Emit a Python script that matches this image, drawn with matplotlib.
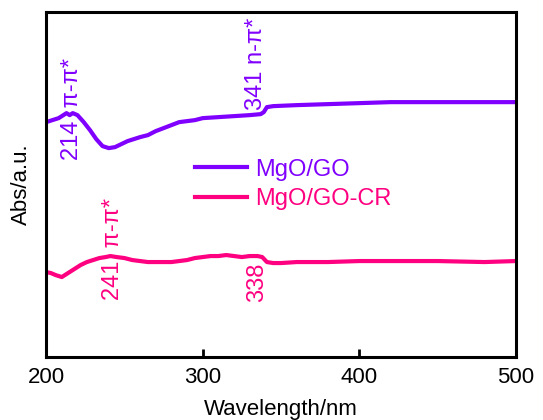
import matplotlib
matplotlib.use("Agg")
from matplotlib import pyplot as plt

plt.rcParams['font.family'] = ['Liberation Sans', 'DejaVu Sans']

#MgO/GO spectrum (arbitrary units)
wl_go = [200, 204, 208, 211, 213, 215, 217, 220, 224, 228, 232, 236, 240, 244,
         248, 252, 256, 260, 265, 270, 275, 280, 285, 290, 295, 300, 310, 320,
         330, 337, 339, 341, 345, 360, 380, 400, 420, 450, 480, 500]
abs_go = [2.35, 2.37, 2.39, 2.42, 2.44, 2.42, 2.44, 2.42, 2.35, 2.27, 2.18, 2.11,
          2.09, 2.10, 2.13, 2.16, 2.18, 2.20, 2.22, 2.26, 2.29, 2.32, 2.35, 2.36,
          2.37, 2.39, 2.40, 2.41, 2.42, 2.43, 2.45, 2.50, 2.51, 2.52, 2.53, 2.54,
          2.55, 2.55, 2.55, 2.55]

#MgO/GO-CR spectrum
wl_cr = [200, 203, 206, 210, 214, 218, 222, 226, 230, 234, 238, 241, 245, 250,
         255, 260, 265, 270, 275, 280, 285, 290, 295, 300, 305, 310, 315, 320,
         325, 330, 335, 338, 341, 345, 350, 360, 380, 400, 420, 450, 480, 500]
abs_cr = [0.85, 0.84, 0.82, 0.80, 0.84, 0.88, 0.92, 0.95, 0.97, 0.99, 1.00, 1.01,
          1.00, 0.99, 0.97, 0.96, 0.95, 0.95, 0.95, 0.95, 0.96, 0.97, 0.99, 1.00,
          1.01, 1.01, 1.02, 1.01, 1.00, 1.01, 1.01, 1.00, 0.95, 0.94, 0.94, 0.95,
          0.95, 0.96, 0.96, 0.96, 0.95, 0.96]

c_go = '#8000ff'
c_cr = '#ff0080'

fig = plt.figure(figsize=(5.43, 4.2), dpi=100)
ax = fig.add_axes([0.085, 0.15, 0.865, 0.821])

ax.plot(wl_go, abs_go, color=c_go, lw=3, label='MgO/GO')
ax.plot(wl_cr, abs_cr, color=c_cr, lw=3, label='MgO/GO-CR')

#peak labels
fs = 17
ax.text(216.5, 1.97, '214  π-π*', color=c_go, rotation=90, ha='center', va='bottom', fontsize=fs)
ax.text(334, 2.47, '341 n-π*', color=c_go, rotation=90, ha='center', va='bottom', fontsize=fs)
ax.text(242.8, 0.57, '241  π-π*', color=c_cr, rotation=90, ha='center', va='bottom', fontsize=fs)
ax.text(334.6, 0.55, '338', color=c_cr, rotation=90, ha='center', va='bottom', fontsize=fs)

ax.set_xlim(200, 500)
ax.set_ylim(0, 3.45)
ax.set_xticks([200, 300, 400, 500])
ax.set_yticks([])
ax.tick_params(axis='x', direction='in', length=6, width=2, labelsize=16, pad=7)
for s in ax.spines.values():
    s.set_linewidth(2.2)

ax.set_xlabel('Wavelength/nm', fontsize=16, labelpad=8)
ax.set_ylabel('Abs/a.u.', fontsize=16, labelpad=10)

leg = ax.legend(loc='center left', bbox_to_anchor=(0.317, 0.501), frameon=False,
                fontsize=17, handlelength=2.2, handletextpad=0.35, labelspacing=0.3,
                borderpad=0, borderaxespad=0)
for t, c in zip(leg.get_texts(), [c_go, c_cr]):
    t.set_color(c)

plt.savefig('out.png', dpi=100)
